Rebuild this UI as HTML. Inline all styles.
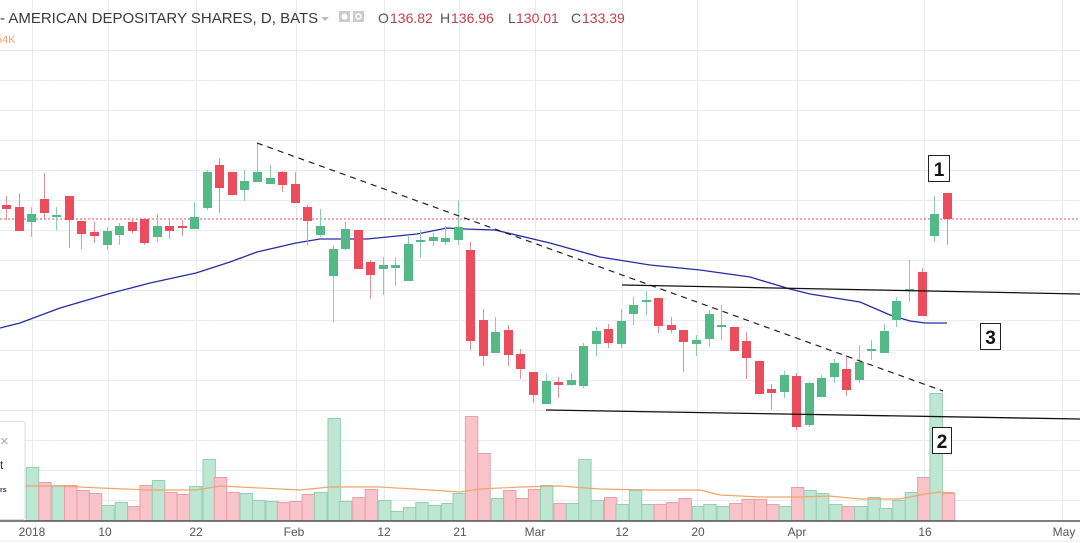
<!DOCTYPE html>
<html><head><meta charset="utf-8">
<style>
html,body{margin:0;padding:0;background:#fff;}
body{width:1080px;height:543px;overflow:hidden;position:relative;font-family:"Liberation Sans",sans-serif;}
svg{position:absolute;left:0;top:0;}
.t{font-family:"Liberation Sans",sans-serif;}
</style></head>
<body>
<svg id="s" width="1080" height="543" viewBox="0 0 1080 543">
<g id="grid" stroke="#e6ecef" stroke-width="1"></g>
<g id="vol"></g>
<polyline fill="none" stroke="#f0a56c" stroke-width="1.2" points="25,486 60,486 100,488 150,490 196,490 220,486 300,490 330,487 380,487 430,490 460,492 480,489 520,487 560,486 600,489 650,490 700,490 720,495 760,497 800,497 830,496 860,499 900,499 925,494 940,492 955,493"/>
<line x1="0" y1="219" x2="1080" y2="219" stroke="#e0505a" stroke-width="1" stroke-dasharray="2,2"/>
<polyline fill="none" stroke="#2a2aa8" stroke-width="1.3" points="0,328 20,323 60,308 108,294 150,283 196,273 230,262 257,252 296,243 320,239 367,239 417,234 447,228 465,229 495,230 550,243 600,257 650,265 700,270 750,277 790,289 810,294 860,302 890,315 910,321 925,323 947,323"/>
<g id="cdl"></g>
<line x1="257" y1="143" x2="943" y2="391" stroke="#222" stroke-width="1.2" stroke-dasharray="6,5"/>
<line x1="622" y1="285" x2="1080" y2="294" stroke="#111" stroke-width="1.3"/>
<line x1="546" y1="410" x2="1080" y2="419" stroke="#111" stroke-width="1.3"/>
<rect x="928.5" y="155.5" width="21" height="26" fill="#fff" stroke="#222"/>
<text x="939" y="176" text-anchor="middle" class="t" font-size="19" font-weight="bold" fill="#111">1</text>
<rect x="980.5" y="323.5" width="20" height="26" fill="#fff" stroke="#222"/>
<text x="990.5" y="344" text-anchor="middle" class="t" font-size="19" font-weight="bold" fill="#111">3</text>
<rect x="932.5" y="427.5" width="19" height="26" fill="#fff" stroke="#222"/>
<text x="942" y="448" text-anchor="middle" class="t" font-size="19" font-weight="bold" fill="#111">2</text>
<line x1="0" y1="521" x2="1080" y2="521" stroke="#555" stroke-width="1.5"/>
<line x1="0" y1="541" x2="1080" y2="541" stroke="#e6ecef"/>
<g class="t" font-size="12" fill="#555" text-anchor="middle">
<text x="32" y="536">2018</text><text x="105" y="536">10</text><text x="196" y="536">22</text><text x="294" y="536">Feb</text><text x="384" y="536">12</text><text x="460" y="536">21</text><text x="535" y="536">Mar</text><text x="622" y="536">12</text><text x="698" y="536">20</text><text x="797" y="536">Apr</text><text x="925" y="536">16</text><text x="1064" y="536">May</text>
</g>
<rect x="-2" y="421.5" width="27" height="98" fill="#fff" stroke="#d8dde0" rx="2"/>
<text x="0" y="446" class="t" font-size="15" fill="#aaa">×</text>
<text x="0" y="469" class="t" font-size="12" fill="#333">t</text>
<text x="0" y="492" class="t" font-size="7" font-weight="bold" fill="#2a3a60">rs</text>
<text x="0" y="23" class="t" font-size="15" fill="#3a3a3a">- AMERICAN DEPOSITARY SHARES, D, BATS</text>
<path d="M321,17 l4,4 l4,-4z" fill="#bbb"/>
<rect x="339" y="11" width="11" height="11" fill="#ccc"/><circle cx="344.5" cy="16.5" r="3" fill="#fff"/>
<rect x="353" y="11" width="11" height="11" fill="#ccc"/><circle cx="358.5" cy="16.5" r="2.5" fill="none" stroke="#fff" stroke-width="1.5"/>
<g class="t" font-size="14">
<text x="378" y="23" fill="#555">O</text><text x="390" y="23" fill="#c8404e">136.82</text>
<text x="440" y="23" fill="#555">H</text><text x="451" y="23" fill="#c8404e">136.96</text>
<text x="508" y="23" fill="#555">L</text><text x="516" y="23" fill="#c8404e">130.01</text>
<text x="571" y="23" fill="#555">C</text><text x="582" y="23" fill="#c8404e">133.39</text>
</g>
<text x="-4" y="43" class="t" font-size="11" fill="#f0a56c">54K</text>
</svg>
<script>
var NS="http://www.w3.org/2000/svg";
function el(p,t,a){var e=document.createElementNS(NS,t);for(var k in a)e.setAttribute(k,a[k]);p.appendChild(e);return e;}
var g=document.getElementById("grid");
for(var y=50;y<=500;y+=30)el(g,"line",{x1:0,x2:1080,y1:y+.5,y2:y+.5});
[32,108,196,296,384,459,535,622,697,797,924,1062].forEach(function(x){el(g,"line",{x1:x+.5,x2:x+.5,y1:0,y2:521});});
var C=[[6,205,209,196,220,'r'],[19,207,231,193,231,'r'],[31,214,222,207,237,'g'],[44,199,213,173,220,'r'],[56,215,217,207,230,'g'],[69,196,220,196,248,'r'],[81,221,234,221,249,'r'],[94,232,236,222,243,'r'],[107,231,245,227,250,'g'],[119,226,235,223,245,'g'],[132,222,231,220,233,'r'],[144,219,243,219,245,'r'],[157,226,237,214,242,'g'],[169,226,231,219,239,'r'],[182,226,228,220,236,'r'],[194,217,229,202,229,'g'],[207,172,208,170,210,'g'],[219,165,188,158,213,'r'],[232,172,195,172,195,'r'],[244,181,190,170,201,'g'],[257,172,182,143,182,'g'],[270,178,184,165,184,'g'],[282,172,185,171,192,'r'],[295,184,203,172,203,'r'],[307,207,221,205,245,'r'],[320,226,235,209,237,'g'],[333,249,276,245,322,'g'],[345,229,249,222,250,'g'],[358,230,269,230,269,'r'],[370,262,275,260,299,'r'],[383,265,269,257,295,'g'],[395,265,268,257,286,'g'],[408,244,281,235,281,'g'],[420,240,242,230,258,'g'],[433,237,241,233,246,'g'],[445,238,242,226,245,'g'],[458,227,240,200,245,'g'],
[470,250,341,242,350,'r'],[483,320,356,309,366,'r'],[495,332,353,317,353,'g'],[508,330,355,325,366,'r'],[520,354,369,349,379,'r'],[533,372,395,372,403,'r'],[546,381,404,374,404,'g'],[558,382,385,377,398,'r'],[571,380,385,373,386,'g'],[583,346,386,343,388,'g'],[596,331,344,327,356,'g'],[608,329,343,324,348,'r'],[621,321,344,309,348,'g'],[633,305,314,297,325,'g'],[646,300,302,291,315,'g'],[658,298,326,298,333,'r'],[671,325,330,317,333,'r'],[683,330,342,330,372,'r'],[696,340,344,335,356,'g'],[709,314,339,310,347,'g'],[721,325,327,305,340,'g'],[734,327,351,327,351,'r'],[746,341,358,332,379,'r'],[759,361,394,361,394,'r'],[771,389,393,384,410,'r'],[784,375,392,371,398,'g'],[796,376,427,373,430,'r'],[809,383,425,382,427,'g'],[821,378,397,375,397,'g'],[834,363,377,359,383,'g'],[846,369,390,355,396,'r'],[859,362,380,345,383,'g'],[871,349,351,340,360,'g'],[884,331,353,324,353,'g'],[896,301,320,297,327,'g'],[909,289,291,260,302,'g'],[922,272,316,268,316,'r'],[934,214,236,196,242,'g'],[947,193,219,193,245,'r']];
var cg=document.getElementById("cdl");
C.forEach(function(c){var col=c[5]=='g'?'#53b987':'#eb4d5c';var wc=c[5]=='g'?'#8ccfb0':'#e8909a';
el(cg,"line",{x1:c[0]+.5,x2:c[0]+.5,y1:c[3],y2:c[4],stroke:wc,"stroke-width":1});
el(cg,"rect",{x:c[0]-4,y:c[1],width:9,height:Math.max(2,c[2]-c[1]),fill:col});});
var V=[[25,467,'g'],[37,482,'r'],[50,485,'g'],[62,485,'r'],[74,490,'r'],[86,493,'r'],[98,505,'g'],[111,502,'g'],[123,506,'r'],[135,485,'r'],[147,480,'g'],[159,492,'r'],[171,494,'r'],[183,486,'g'],[196,459,'g'],[207,477,'r'],[219,492,'r'],[232,493,'g'],[244,500,'g'],[257,501,'g'],[268,502,'r'],[280,501,'r'],[292,494,'r'],[304,492,'g'],[317,418,'g'],[328,501,'g'],[341,497,'r'],[353,489,'r'],[366,500,'g'],[378,511,'g'],[390,507,'g'],[402,502,'g'],[414,505,'g'],[427,503,'g'],[438,493,'g'],[450,416,'r'],[462,453,'r'],[475,498,'g'],[487,490,'r'],[499,498,'r'],[511,489,'r'],
[540,485,'g'],[553,503,'r'],[565,503,'g'],[577,459,'g'],[589,500,'g'],[602,497,'r'],[613,504,'g'],[626,490,'g'],[638,504,'g'],[650,504,'r'],[662,502,'r'],[674,498,'r'],[687,506,'g'],[698,504,'g'],[711,506,'g'],[723,503,'r'],[735,499,'r'],[747,499,'r'],[759,504,'r'],[771,506,'g'],[783,487,'r'],[795,490,'g'],[807,493,'g'],[820,504,'g'],[832,506,'r'],[844,506,'g'],[857,497,'g'],[868,508,'g'],[881,500,'g'],[893,492,'g'],[905,477,'r'],[917,393,'g'],[929,493,'r']];
var vg=document.getElementById("vol");
var k=3/2.904;
V.forEach(function(v,i){var off=i<41?0:540;var x=off+(v[0]-off)*k;
el(vg,"rect",{x:x+.5,y:v[1]+.5,width:12.4,height:520-v[1],fill:v[2]=='g'?'#bfe5d3':'#f8c3c9',stroke:v[2]=='g'?'#94d0b5':'#e9a0a9',"stroke-width":1});});
</script>
</body></html>
